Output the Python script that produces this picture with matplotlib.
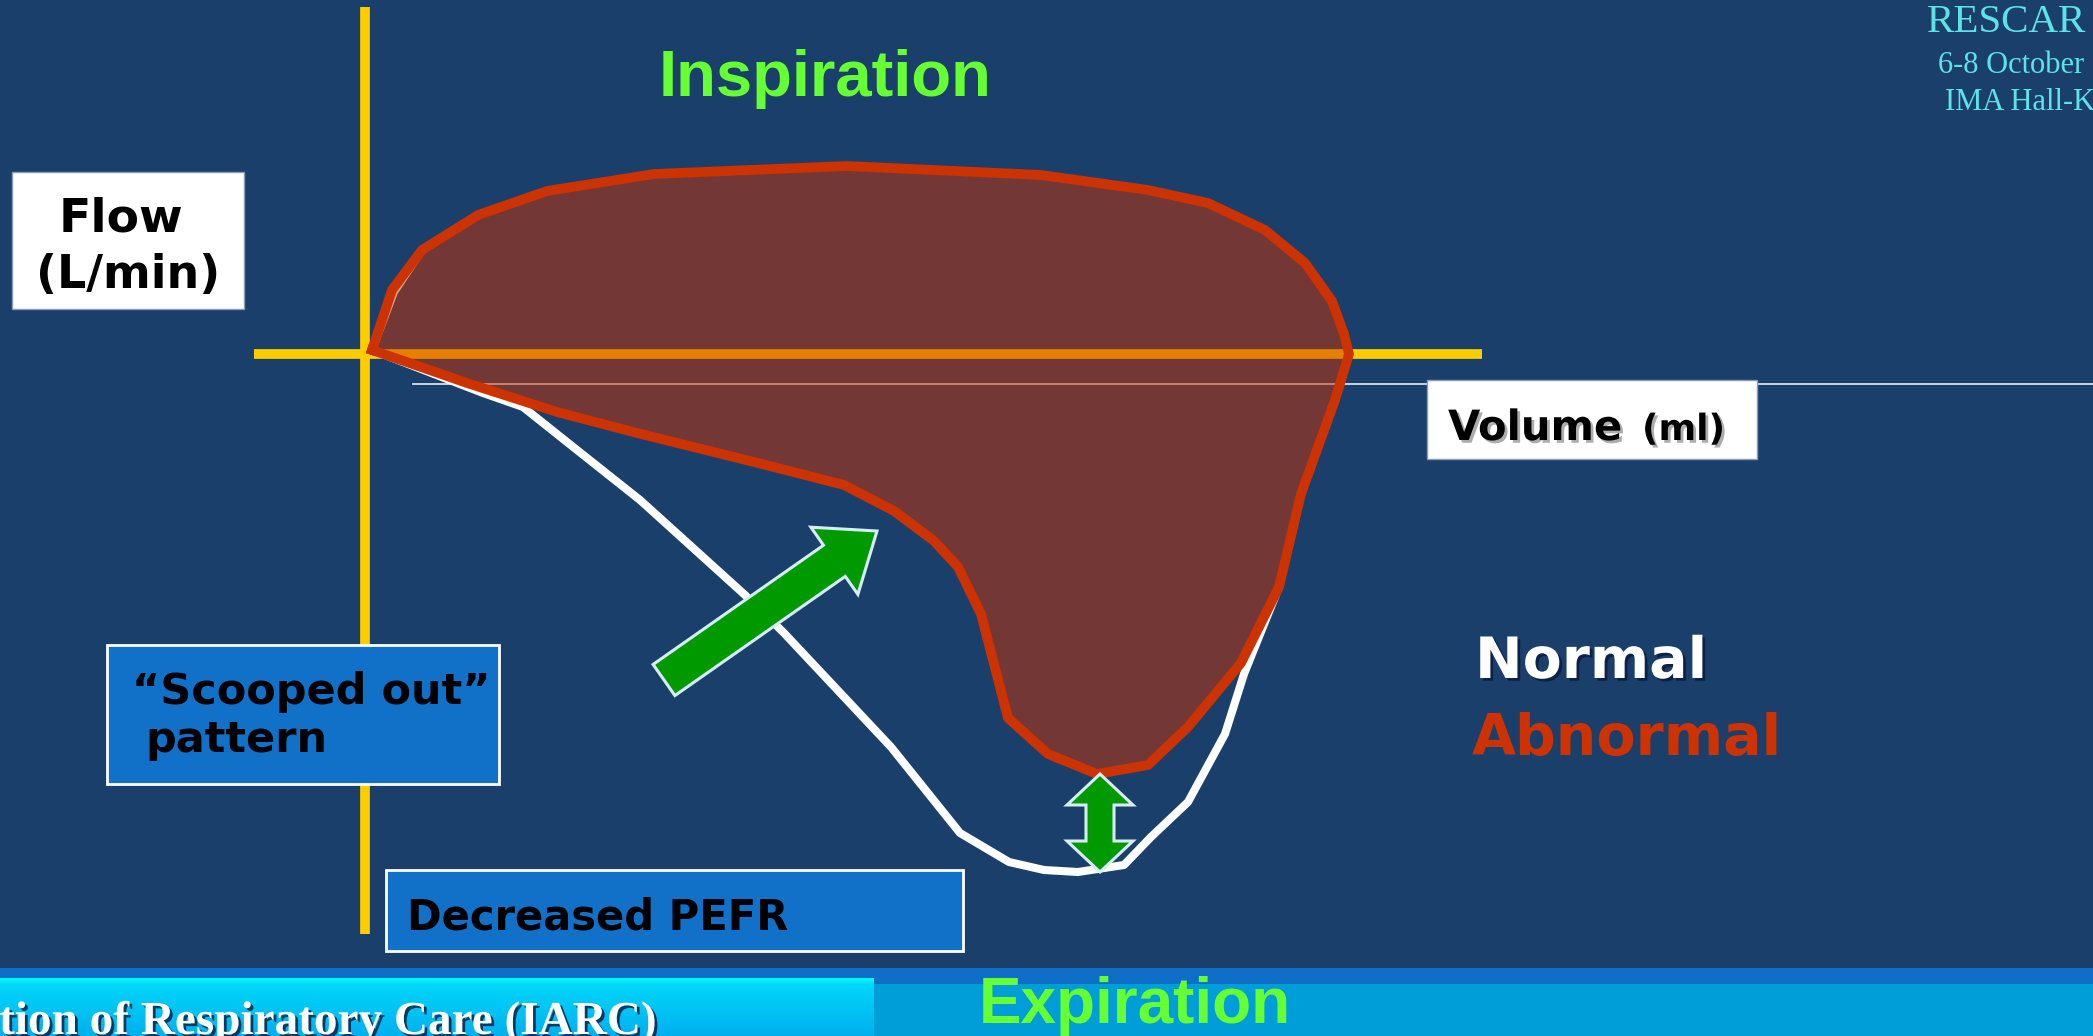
import matplotlib
matplotlib.use("Agg")
import matplotlib.pyplot as plt
import matplotlib.patches as mpatches
import matplotlib.patheffects as pe
import numpy as np

W, H, DPI = 2093, 1036, 100
BG = "#1B3F6B"

# ---------------- data (volume in ml, flow in L/min) ----------------
abn_volume = [35, 135, 285, 565, 910, 1445, 2410, 3380, 3915, 4215, 4500, 4700,
              4835, 4895, 4920, 4850, 4680, 4570, 4380, 4115, 3915, 3660, 3415,
              3215, 3080, 2965, 2845, 2645, 2395, 1945, 1380, 960, 510]
abn_flow = [4, 64, 104, 139, 163, 180, 188, 179, 164, 151, 124, 91,
            53, 20, 0, -46, -140, -233, -309, -373, -411, -420, -400,
            -364, -260, -213, -187, -157, -131, -108, -80, -58, -29]

nor_volume = [35, 145, 285, 565, 910, 1445, 2410, 3380, 3915, 4215, 4500, 4700,
              4835, 4895, 4920, 4850, 4680, 4570, 4395, 4300, 4115, 3930, 3795,
              3565, 3395, 3220, 2975, 2630, 2095, 1900, 1690, 1375, 1060, 790,
              590, 35]
nor_flow = [4, 62, 104, 139, 163, 180, 188, 179, 164, 151, 124, 91,
            53, 20, 0, -46, -140, -233, -320, -380, -448, -483, -511,
            -518, -516, -508, -479, -393, -279, -241, -203, -146, -96, -53,
            -39, 4]

axis_flow_span = [347, -580]      # vertical (flow) axis extent
axis_volume_span = [-555, 5585]   # horizontal (volume) axis extent
baseline_volume_span = [240, 8640]
baseline_flow = -30

scoop_arrow_tail = (1495, -326)
scoop_arrow_tip = (2560, -177)
pefr_arrow_volume = 3675

# ---------------- figure ----------------
fig = plt.figure(figsize=(W / DPI, H / DPI), dpi=DPI, facecolor=BG)
ax = fig.add_axes([0, 0, 1, 1])
ax.set_xlim(-1825, 8640)
ax.set_ylim(-682, 354)
ax.axis("off")

ax2 = fig.add_axes([0, 0, 1, 1])
ax2.set_xlim(0, W)
ax2.set_ylim(H, 0)
ax2.axis("off")

# thin white volume baseline
ax.plot(baseline_volume_span, [baseline_flow, baseline_flow], color="#E6EDF5",
        lw=1.2, zorder=1)
# yellow axes
ax.plot([0, 0], axis_flow_span, color="#FFCC00", lw=7, solid_capstyle="butt", zorder=2)
ax.plot(axis_volume_span, [0, 0], color="#FFCC00", lw=7, solid_capstyle="butt", zorder=2)
# normal loop
ax.plot(nor_volume, nor_flow, color="white", lw=5.8, zorder=3,
        solid_joinstyle="round", solid_capstyle="round")
# abnormal loop
ax.fill(abn_volume, abn_flow, color="#CC3300", alpha=0.5, lw=0, zorder=4)
ax.plot(abn_volume + [abn_volume[0]], abn_flow + [abn_flow[0]], color="#CC3300",
        lw=7, zorder=5, solid_joinstyle="round")


def to_px(v, f):
    d = ax.transData.transform((v, f))
    return ax2.transData.inverted().transform(d)


def arrow_poly(p0, p1, shaft_w, head_w, head_l, double=False):
    p0 = np.asarray(p0, float)
    p1 = np.asarray(p1, float)
    u = (p1 - p0) / np.linalg.norm(p1 - p0)
    n = np.array([-u[1], u[0]])
    b1 = p1 - u * head_l
    if double:
        b0 = p0 + u * head_l
        pts = [p0, b0 + n * head_w / 2, b0 + n * shaft_w / 2, b1 + n * shaft_w / 2,
               b1 + n * head_w / 2, p1, b1 - n * head_w / 2, b1 - n * shaft_w / 2,
               b0 - n * shaft_w / 2, b0 - n * head_w / 2]
    else:
        pts = [p0 + n * shaft_w / 2, b1 + n * shaft_w / 2, b1 + n * head_w / 2, p1,
               b1 - n * head_w / 2, b1 - n * shaft_w / 2, p0 - n * shaft_w / 2]
    return np.array(pts)


GREEN = "#009900"
EDGE = "#D6ECF6"
p0 = to_px(*scoop_arrow_tail)
p1 = to_px(*scoop_arrow_tip)
ax2.add_patch(mpatches.Polygon(arrow_poly(p0, p1, 38, 82, 52), closed=True,
                               fc=GREEN, ec=EDGE, lw=2.2, zorder=6))
q0 = to_px(pefr_arrow_volume, min(abn_flow))
q1 = to_px(pefr_arrow_volume, min(nor_flow))
ax2.add_patch(mpatches.Polygon(arrow_poly(q0, q1, 28, 66, 31, double=True), closed=True,
                               fc=GREEN, ec=EDGE, lw=2.2, zorder=6))

# ---------------- bottom bands ----------------
ax2.add_patch(mpatches.Rectangle((0, 968), W, H - 968, fc="#0F6EC6", ec="none", zorder=1))
ax2.add_patch(mpatches.Rectangle((874, 984), W - 874, H - 984, fc="#009ED8", ec="none", zorder=2))
rows = H - 978
grad = np.zeros((rows, 2, 3))
for i in range(rows):
    if i < 7:
        t = i / 6
        c = np.array([0, 255, 255]) * (1 - t) + np.array([0, 214, 250]) * t
    else:
        t = (i - 7) / (rows - 8)
        c = np.array([0, 214, 250]) * (1 - t) + np.array([0, 176, 238]) * t
    grad[i, :, :] = c / 255
ax2.imshow(grad, extent=(0, 874, H, 978), aspect="auto", origin="upper",
           interpolation="bilinear", zorder=3)
ax2.set_xlim(0, W)
ax2.set_ylim(H, 0)

shadow_dark = [pe.SimplePatchShadow(offset=(2, -2), shadow_rgbFace="#0A1A40", alpha=0.8), pe.Normal()]
shadow_gray = [pe.SimplePatchShadow(offset=(2, -2), shadow_rgbFace="#777777", alpha=0.6), pe.Normal()]

ax2.text(657, 1034, "tion of Respiratory Care (IARC)", ha="right", va="baseline",
         fontsize=34, family="Liberation Serif", fontweight="bold", color="white",
         path_effects=shadow_dark, zorder=10)
ax2.text(979, 1023, "Expiration", ha="left", va="baseline", fontsize=46,
         family="Liberation Sans", fontweight="bold", color="#66FF33", zorder=10)
ax2.text(825, 96, "Inspiration", ha="center", va="baseline", fontsize=47,
         family="Liberation Sans", fontweight="bold", color="#66FF33", zorder=10)

# top right
CY = "#5CE3E8"
ax2.text(1927, 32, "RESCAR", ha="left", va="baseline", fontsize=29.5,
         family="Liberation Serif", color=CY, zorder=10)
ax2.text(1938, 73, "6-8 October", ha="left", va="baseline", fontsize=22,
         family="Liberation Serif", color=CY, zorder=10)
ax2.text(1945, 110, "IMA Hall-K", ha="left", va="baseline", fontsize=22,
         family="Liberation Serif", color=CY, zorder=10)

# Flow box
ax2.add_patch(mpatches.Rectangle((12, 172), 232, 137, fc="white", ec="#8A9BB8", lw=1, zorder=7))
ax2.text(121, 231, "Flow", ha="center", va="baseline", fontsize=34, family="DejaVu Sans",
         fontweight="bold", color="black", zorder=8)
ax2.text(128, 288, "(L/min)", ha="center", va="baseline", fontsize=33, family="DejaVu Sans",
         fontweight="bold", color="black", zorder=8)

# Volume box
ax2.add_patch(mpatches.Rectangle((1427, 380), 330, 79, fc="white", ec="#8A9BB8", lw=1, zorder=7))
ax2.text(1448, 440, "Volume", ha="left", va="baseline", fontsize=30, family="DejaVu Sans",
         fontweight="bold", color="black", path_effects=shadow_gray, zorder=8)
ax2.text(1642, 440, "(ml)", ha="left", va="baseline", fontsize=26, family="DejaVu Sans",
         fontweight="bold", color="black", path_effects=shadow_gray, zorder=8)

# Scooped out box
ax2.add_patch(mpatches.Rectangle((107, 645), 392, 139, fc="#1170C8", ec="white", lw=2, zorder=7))
ax2.text(132, 704, "\u201cScooped out\u201d", ha="left", va="baseline", fontsize=31,
         family="DejaVu Sans", fontweight="bold", color="black", zorder=8)
ax2.text(145, 752, "pattern", ha="left", va="baseline", fontsize=31,
         family="DejaVu Sans", fontweight="bold", color="black", zorder=8)

# Decreased PEFR box
ax2.add_patch(mpatches.Rectangle((386, 870), 577, 81, fc="#1170C8", ec="white", lw=2, zorder=7))
ax2.text(407, 930, "Decreased PEFR", ha="left", va="baseline", fontsize=30,
         family="DejaVu Sans", fontweight="bold", color="black", zorder=8)

# Legend-like labels
ax2.text(1475, 678, "Normal", ha="left", va="baseline", fontsize=41, family="DejaVu Sans",
         fontweight="bold", color="white", path_effects=shadow_dark, zorder=8)
ax2.text(1472, 755, "Abnormal", ha="left", va="baseline", fontsize=41, family="DejaVu Sans",
         fontweight="bold", color="#CC3300", zorder=8)

fig.savefig("out.png", dpi=DPI, facecolor=BG)
